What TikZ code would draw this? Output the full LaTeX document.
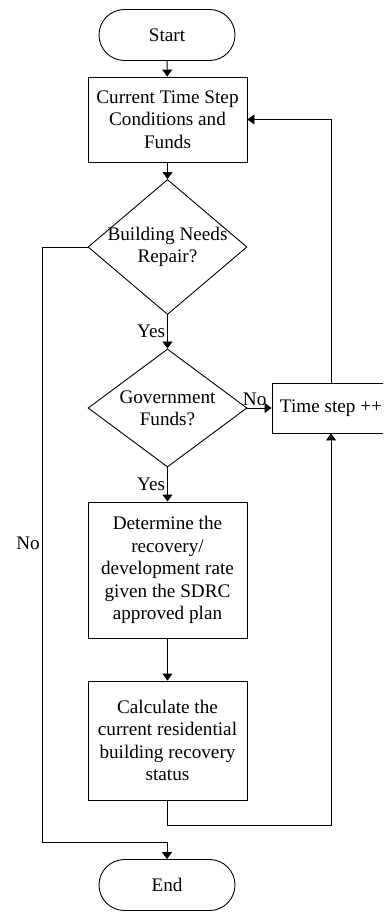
\documentclass[tikz,border=0pt]{standalone}
\usepackage{fontspec}
\setmainfont{Liberation Serif}
\usetikzlibrary{arrows.meta,shapes.geometric,shapes.misc}
\begin{document}
\begin{tikzpicture}[
  x=1pt, y=1pt,
  >={Triangle[width=10pt,length=7pt]},
  flowfont/.style={font={\fontsize{19.2pt}{22.4pt}\selectfont}},
  terminal/.style={rounded rectangle, draw=black, line width=0.9pt, minimum width=136pt, minimum height=51pt, inner sep=0pt, flowfont},
  process/.style={rectangle, draw=black, line width=0.9pt, minimum width=159pt, inner sep=0pt, align=center, flowfont},
  decision/.style={diamond, draw=black, line width=0.9pt, minimum width=159pt, inner sep=0pt},
  flowlbl/.style={flowfont, inner sep=2pt, align=center},
  flowedge/.style={->, draw=black, line width=0.9pt},
  flowline/.style={draw=black, line width=0.9pt}
]
\useasboundingbox (0,0) rectangle (383,-912);
\clip (0,0) rectangle (383,-912);
\node[terminal] (start) at (167.0000,-35.0000) {Start};
\node[process, minimum height=85pt] (cur) at (167.5000,-119.5000) {Current Time Step\\Conditions and\\Funds};
\node[decision, minimum height=135pt, label={[flowlbl]center:Building Needs\\Repair?}] (need) at (167.5000,-247.0000) {};
\node[decision, minimum height=118pt, label={[flowlbl]center:Government\\Funds?}] (gov) at (167.5000,-408.0000) {};
\node[process, minimum height=136pt] (det) at (167.5000,-570.0000) {Determine the\\recovery/\\development rate\\given the SDRC\\approved plan};
\node[process, minimum height=119pt] (calc) at (167.5000,-740.5000) {Calculate the\\current residential\\building recovery\\status};
\node[terminal] (endn) at (167.0000,-885.0000) {End};
\node[process, minimum width=118pt, minimum height=50pt, align=left] (tstep) at (331.0000,-408.0000) {Time step ++};
\coordinate (nocorner) at (42.0000,-842.0000);
\coordinate (loopbot) at (331.0000,-825.0000);
\draw[flowedge] (start) -- (cur);
\draw[flowedge] (cur) -- (need);
\draw[flowedge] (need) -- node[flowlbl, left, pos=0.5] {Yes} (gov);
\draw[flowedge] (gov) -- node[flowlbl, left, pos=0.5] {Yes} (det);
\draw[flowedge] (det) -- (calc);
\draw[flowedge] (gov) -- node[flowlbl, above, pos=0.3] {No} (tstep);
\draw[flowedge] (need.west) -| (nocorner) -| (endn.north);
\node[flowlbl] (nolbl) at (28.0000,-543.0000) {No};
\draw[flowedge] (calc.south) |- (loopbot) -- (tstep.south);
\draw[flowedge] (tstep.north) |- (cur.east);
\end{tikzpicture}
\end{document}
